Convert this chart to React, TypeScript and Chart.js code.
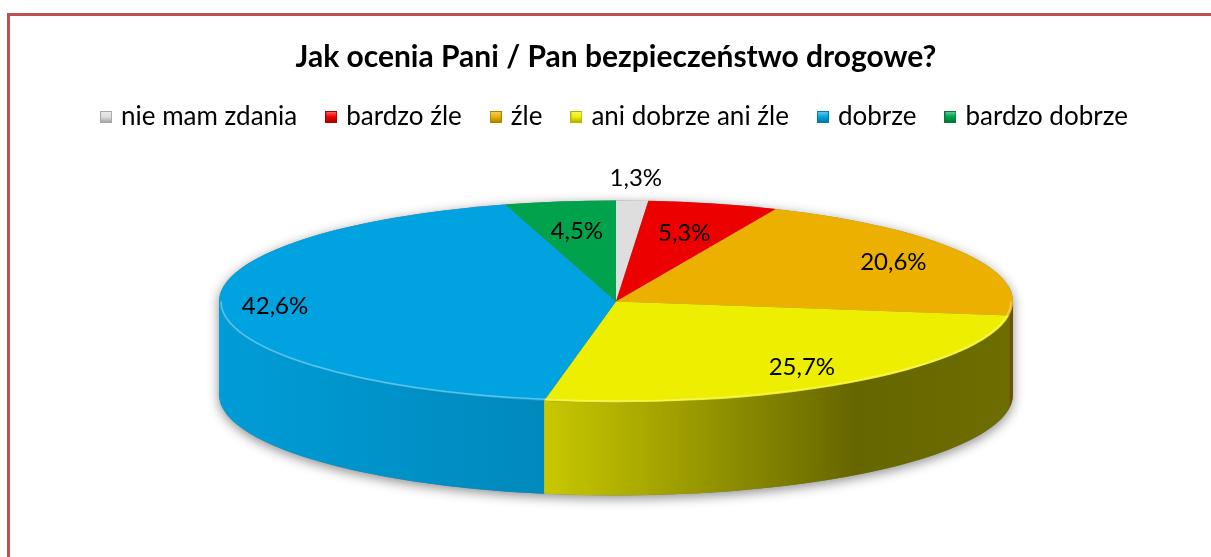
import React, { useEffect, useRef } from 'react';
import { Chart, registerables } from 'chart.js';

Chart.register(...registerables);

// ---------- data ----------
const chartTitle = 'Jak ocenia Pani / Pan bezpieczeństwo drogowe?';
const categories = ['nie mam zdania', 'bardzo źle', 'źle', 'ani dobrze ani źle', 'dobrze', 'bardzo dobrze'];
const values = [1.3, 5.3, 20.6, 25.7, 42.6, 4.5];
const colors = ['#DEDEDE', '#EC0000', '#EBB000', '#EEEE00', '#00A3E0', '#00A24C'];

// ---------- style ----------
const FONT = 'Lato, "Open Sans", sans-serif';
const TILT = 0.2544;
const DEPTH = 93;
const RADIUS = 397;
const SIDE_SHADE: [number, number][] = [
  [0, 0.04],
  [0.41, 0.16],
  [0.8, 0.57],
  [1, 0.54],
];

function parseHex(hex: string): number[] {
  const h = hex.replace('#', '');
  return [0, 2, 4].map((i) => parseInt(h.slice(i, i + 2), 16));
}
function mix(hex: string, target: number, t: number): string {
  const c = parseHex(hex).map((v) => Math.round(v + (target - v) * t));
  return `rgb(${c[0]},${c[1]},${c[2]})`;
}
const shade = (hex: string, t: number) => mix(hex, 0, t);
const lighten = (hex: string, t: number) => mix(hex, 255, t);

const fmt = (v: number) => v.toFixed(1).replace('.', ',') + '%';

// radial position of a value label (fraction of the radius), by slice size
const labelRadius = (v: number) => (v < 2 ? 1.22 : v < 10 ? 0.7 : v > 40 ? 0.86 : 0.8);

function makeIcon(color: string): HTMLCanvasElement {
  const c = document.createElement('canvas');
  c.width = 12;
  c.height = 12;
  const g = c.getContext('2d')!;
  const grad = g.createLinearGradient(0, 0, 0, 12);
  grad.addColorStop(0, lighten(color, 0.45));
  grad.addColorStop(0.5, color);
  grad.addColorStop(1, shade(color, 0.3));
  g.fillStyle = grad;
  g.fillRect(0, 0, 12, 12);
  g.strokeStyle = shade(color, 0.25);
  g.lineWidth = 1;
  g.strokeRect(0.5, 0.5, 11, 11);
  return c;
}

const pie3d = {
  id: 'pie3d',
  beforeDatasetsDraw(chart: any) {
    const arcs = chart.getDatasetMeta(0).data as any[];
    if (!arcs.length) return;
    const { x: cx, y: cy, outerRadius: R } = arcs[0].getProps(['x', 'y', 'outerRadius'], true);
    const ry = R * TILT;
    const ctx: CanvasRenderingContext2D = chart.ctx;

    // shadow of the whole body
    ctx.save();
    ctx.beginPath();
    ctx.ellipse(cx, cy + DEPTH, R, ry, 0, 0, Math.PI);
    ctx.lineTo(cx - R, cy);
    ctx.ellipse(cx, cy, R, ry, 0, Math.PI, 2 * Math.PI);
    ctx.closePath();
    ctx.shadowColor = 'rgba(0,0,0,0.45)';
    ctx.shadowBlur = 12;
    ctx.shadowOffsetY = 3;
    ctx.fillStyle = '#777';
    ctx.fill();
    ctx.restore();

    // side walls
    arcs.forEach((arc, i) => {
      const { startAngle, endAngle } = arc.getProps(['startAngle', 'endAngle'], true);
      const s = Math.max(startAngle, 0);
      const e = Math.min(endAngle, Math.PI);
      if (e <= s) return;
      const g = ctx.createLinearGradient(cx - R, 0, cx + R, 0);
      SIDE_SHADE.forEach(([u, t]) => g.addColorStop(u, shade(colors[i], t)));
      ctx.beginPath();
      ctx.ellipse(cx, cy, R, ry, 0, s, e);
      ctx.ellipse(cx, cy + DEPTH, R, ry, 0, e, s, true);
      ctx.closePath();
      ctx.fillStyle = g;
      ctx.fill();
    });

    ctx.save();
    ctx.translate(cx, cy);
    ctx.scale(1, TILT);
    ctx.translate(-cx, -cy);
    chart.$pie3dSaved = true;
  },
  afterDatasetsDraw(chart: any) {
    const ctx: CanvasRenderingContext2D = chart.ctx;
    if (chart.$pie3dSaved) {
      ctx.restore();
      chart.$pie3dSaved = false;
    }
    const arcs = chart.getDatasetMeta(0).data as any[];
    if (!arcs.length) return;
    const { x: cx, y: cy, outerRadius: R } = arcs[0].getProps(['x', 'y', 'outerRadius'], true);
    const ry = R * TILT;

    // rim highlight on the front edge
    arcs.forEach((arc, i) => {
      const { startAngle, endAngle } = arc.getProps(['startAngle', 'endAngle'], true);
      const s = Math.max(startAngle, 0);
      const e = Math.min(endAngle, Math.PI);
      if (e <= s) return;
      ctx.beginPath();
      ctx.ellipse(cx, cy, R - 2, ry - 1.5, 0, s, e);
      ctx.strokeStyle = lighten(colors[i], 0.35);
      ctx.lineWidth = 1.5;
      ctx.stroke();
    });

    // value labels
    ctx.save();
    ctx.font = `24px ${FONT}`;
    ctx.fillStyle = '#000';
    ctx.textAlign = 'center';
    ctx.textBaseline = 'middle';
    arcs.forEach((arc, i) => {
      const { startAngle, endAngle } = arc.getProps(['startAngle', 'endAngle'], true);
      const mid = (startAngle + endAngle) / 2;
      const f = labelRadius(values[i]);
      const lx = cx + Math.cos(mid) * R * f;
      const ly = cy + Math.sin(mid) * R * f * TILT;
      ctx.fillText(fmt(values[i]), lx, ly);
    });
    ctx.restore();
  },
};

export default function App() {
  const ref = useRef<HTMLCanvasElement | null>(null);

  useEffect(() => {
    if (!ref.current) return;
    const icons = colors.map(makeIcon);
    const chart = new Chart(ref.current, {
      type: 'pie',
      data: {
        labels: categories,
        datasets: [
          {
            data: values,
            backgroundColor: colors,
            borderWidth: 0,
            radius: RADIUS,
            clip: false as any,
          } as any,
        ],
      },
      options: {
        animation: false,
        responsive: true,
        maintainAspectRatio: false,
        layout: { padding: { top: 0, bottom: 94, left: 0, right: 0 } },
        plugins: {
          title: {
            display: true,
            text: chartTitle,
            color: '#000',
            font: { family: FONT, size: 30, weight: 'bold', lineHeight: 1 },
            padding: { top: 26, bottom: 0 },
          },
          legend: {
            display: true,
            position: 'top',
            labels: {
              usePointStyle: true,
              boxWidth: 4,
              padding: 32,
              color: '#000',
              font: { family: FONT, size: 26 },
              generateLabels: () =>
                categories.map((c, i) => ({
                  text: c,
                  fillStyle: colors[i],
                  strokeStyle: colors[i],
                  lineWidth: 0,
                  pointStyle: icons[i],
                  hidden: false,
                  index: i,
                  fontColor: '#000',
                })) as any,
            },
          },
          tooltip: { enabled: false },
        },
      },
      plugins: [pie3d as any],
    });
    return () => chart.destroy();
  }, []);

  return (
    <div
      style={{
        position: 'fixed',
        left: 0,
        top: 0,
        width: 1211,
        height: 557,
        overflow: 'hidden',
        background: '#fff',
      }}
    >
      <div
        style={{
          position: 'absolute',
          left: 7,
          top: 13,
          width: 1400,
          height: 800,
          border: '3px solid #C0504D',
          boxSizing: 'border-box',
        }}
      />
      <div style={{ position: 'absolute', left: 10, top: 16, width: 1212, height: 541 }}>
        <canvas ref={ref} />
      </div>
    </div>
  );
}
